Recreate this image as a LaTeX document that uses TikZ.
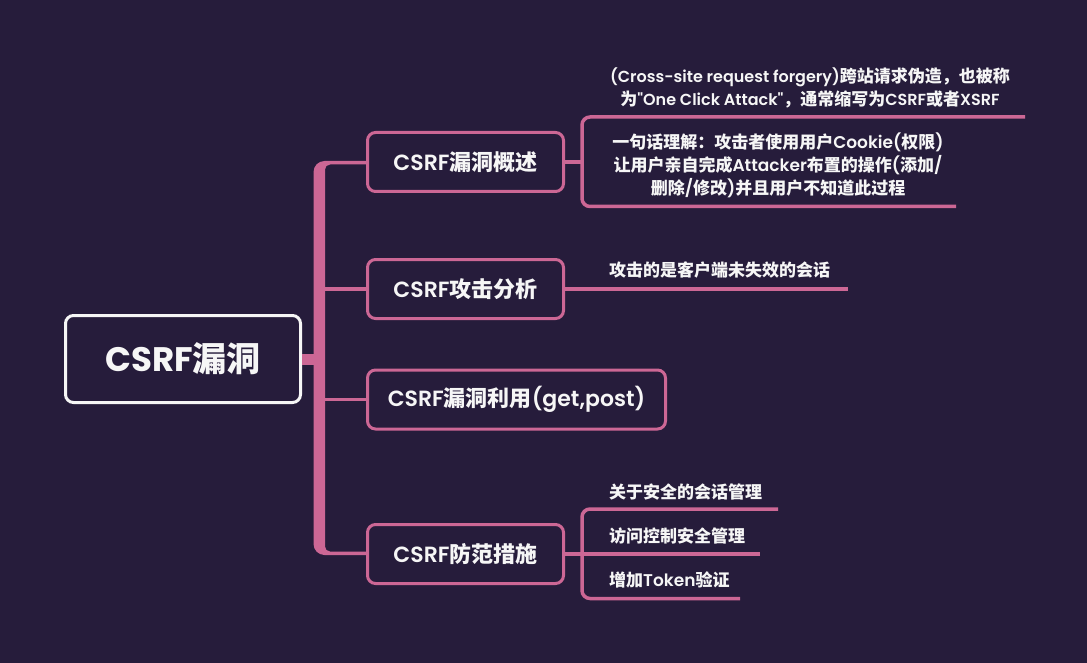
\documentclass[tikz,border=0pt]{standalone}
\usepackage{fontspec}
\newfontfamily\zh{Noto Sans CJK SC}
\newfontfamily\ensb{Poppins SemiBold}
\newfontfamily\enb{Poppins}
\newcommand\E[1]{{\ensb\mdseries #1}}
\newcommand\El[1]{{\ensb\mdseries\fontsize{16}{23}\selectfont #1}}
\newcommand\EB[1]{{\enb\bfseries #1}}
\definecolor{bg}{RGB}{38,28,59}
\definecolor{pk}{RGB}{204,103,149}
\definecolor{wt}{RGB}{246,246,246}
\tikzset{
  rootbox/.style={draw=wt, line width=3, rounded corners=8, minimum width=235, minimum height=87, text=wt, inner sep=0, font=\zh\bfseries\fontsize{34}{40}\selectfont},
  childbox/.style={draw=pk, line width=3, rounded corners=8, minimum width=196, minimum height=59, text=wt, inner sep=0, font=\zh\bfseries\fontsize{22}{26}\selectfont},
  leaf/.style={text=wt, inner sep=0, font=\zh\bfseries\fontsize{17}{23}\selectfont, align=center},
  br/.style={draw=pk, line width=3.5},
}
\begin{document}
\begin{tikzpicture}[x=1pt,y=-1pt]
\fill[bg] (0,0) rectangle (1087,663);
\useasboundingbox (0,0) rectangle (1087,663);
% nodes
\node[rootbox] (root) at (183,359) {\EB{CSRF}漏洞};
\node[childbox] (c1) at (465.5,162) {\E{CSRF}漏洞概述};
\node[childbox] (c2) at (465.5,289) {\E{CSRF}攻击分析};
\node[childbox, minimum width=298] (c3) at (516.5,399.5) {\E{CSRF}漏洞利用\E{(get,post)}};
\node[childbox] (c4) at (465.5,554) {\E{CSRF}防范措施};
% leaves
\node[leaf] (l1) at (810,87.5) {\El{(Cross-site request forgery)}跨站请求伪造，也被称\\为\El{"One Click Attack"}，通常缩写为\El{CSRF}或者\El{XSRF}};
\node[leaf] (l2) at (778,165.5) {一句话理解：攻击者使用用户\E{Cookie(}权限\E{)}\\让用户亲自完成\E{Attacker}布置的操作\E{(}添加\E{/}\\删除\E{/}修改\E{)}并且用户不知道此过程};
\node[leaf, anchor=west] (l3) at (609,270) {攻击的是客户端未失效的会话};
\node[leaf, anchor=west] (l4a) at (609,492) {关于安全的会话管理};
\node[leaf, anchor=west] (l4b) at (609,536) {访问控制安全管理};
\node[leaf, anchor=west] (l4c) at (609,580) {增加\E{Token}验证};
% coordinates
\coordinate (tr) at (319,359);
\coordinate (b1) at (582,162);
\coordinate (b4) at (582,554);
\coordinate (u1) at (1025,117);
\coordinate (u2) at (956,206.5);
\coordinate (u3) at (848,289);
\coordinate (u4a) at (778,509);
\coordinate (u4b) at (760,554);
\coordinate (u4c) at (740,598.5);
% trunk
\fill[pk] (313.5,172) arc[start angle=180,end angle=270,radius=11] -- (368,161) -- (368,164.5) -- (330,164.5)
  arc[start angle=270,end angle=180,radius=5] -- (325,546.5)
  arc[start angle=180,end angle=90,radius=5] -- (368,551.5) -- (368,555) -- (324.5,555)
  arc[start angle=90,end angle=180,radius=11] -- cycle;
\draw[pk, line width=11] (root.east) -- (root.east -| tr);
\draw[br] (c2.west) -- (c2.west -| tr);
\draw[br] (c3.west) -- (c3.west -| tr);
% right side
\draw[br] (c1.east) -- (b1);
\draw[br, rounded corners=8] (u1) -| (b1) |- (u2);
\draw[br] (c2.east) -- (u3);
\draw[br] (c4.east) -- (u4b);
\draw[br, rounded corners=8] (u4a) -| (b4) |- (u4c);
\end{tikzpicture}
\end{document}
